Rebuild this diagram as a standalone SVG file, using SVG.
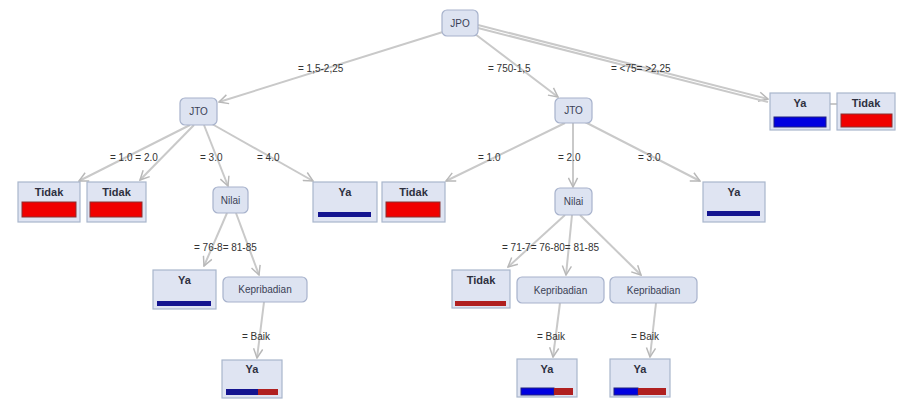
<svg xmlns="http://www.w3.org/2000/svg" width="901" height="399" viewBox="0 0 901 399">
<style>
.inner{fill:#dde3f1;stroke:#a7b2cc;stroke-width:1.2}
.leaf{fill:#dfe4f2;stroke:#a9b6cc;stroke-width:1.2}
.nt{font-family:"Liberation Sans",Arial,sans-serif;font-size:10px;fill:#3a3f55;text-anchor:middle}
.lt{font-family:"Liberation Sans",Arial,sans-serif;font-size:11px;font-weight:bold;fill:#2e3040;text-anchor:middle}
.el{font-family:"Liberation Sans",Arial,sans-serif;font-size:10px;fill:#333;text-anchor:start}
.edge{stroke:#c9c9c9;stroke-width:2;fill:none}
.red{fill:#f00000;stroke:#8a3030;stroke-width:1}
.blue{fill:#0000e0;stroke:#202080;stroke-width:1}
.thinb{fill:#141490}
.thinr{fill:#b02020}
</style>
<defs>
<marker id="arr" viewBox="0 0 12 12" refX="11" refY="6" markerWidth="11" markerHeight="11" markerUnits="userSpaceOnUse" orient="auto">
<path d="M1,1 L11,6 L1,11" fill="none" stroke="#b8b8b8" stroke-width="1.6"/>
</marker>
</defs>
<g id="connectors">
<line class="edge" x1="446" y1="31" x2="219" y2="102" marker-end="url(#arr)"/>
<line class="edge" x1="475" y1="34" x2="558" y2="97" marker-end="url(#arr)"/>
<line class="edge" x1="478" y1="25" x2="768" y2="99" marker-end="url(#arr)"/>
<line class="edge" x1="478" y1="28" x2="768" y2="102"/>
<line class="edge" x1="830" y1="104" x2="837" y2="104"/>
<line class="edge" x1="190" y1="125" x2="79" y2="181" marker-end="url(#arr)"/>
<line class="edge" x1="194" y1="125" x2="140" y2="180" marker-end="url(#arr)"/>
<line class="edge" x1="204" y1="125" x2="228" y2="186" marker-end="url(#arr)"/>
<line class="edge" x1="212" y1="124" x2="313" y2="181" marker-end="url(#arr)"/>
<line class="edge" x1="565" y1="123" x2="446" y2="181" marker-end="url(#arr)"/>
<line class="edge" x1="573" y1="123" x2="573" y2="187" marker-end="url(#arr)"/>
<line class="edge" x1="585" y1="122" x2="700" y2="181" marker-end="url(#arr)"/>
<line class="edge" x1="227" y1="213" x2="204" y2="266" marker-end="url(#arr)"/>
<line class="edge" x1="236" y1="213" x2="259" y2="275" marker-end="url(#arr)"/>
<line class="edge" x1="264" y1="302" x2="257" y2="358" marker-end="url(#arr)"/>
<line class="edge" x1="565" y1="215" x2="508" y2="267" marker-end="url(#arr)"/>
<line class="edge" x1="572" y1="215" x2="566" y2="275" marker-end="url(#arr)"/>
<line class="edge" x1="580" y1="215" x2="641" y2="275" marker-end="url(#arr)"/>
<line class="edge" x1="560" y1="303" x2="553" y2="357" marker-end="url(#arr)"/>
<line class="edge" x1="656" y1="303" x2="650" y2="357" marker-end="url(#arr)"/>
<text class="el" x="298" y="72">= 1,5-2,25</text>
<text class="el" x="488" y="72">= 750-1,5</text>
<text class="el" x="611" y="72">= &lt;75= &gt;2,25</text>
<text class="el" x="110" y="161">= 1.0 = 2.0</text>
<text class="el" x="200" y="161">= 3.0</text>
<text class="el" x="257" y="161">= 4.0</text>
<text class="el" x="478" y="161">= 1.0</text>
<text class="el" x="558" y="161">= 2.0</text>
<text class="el" x="638" y="161">= 3.0</text>
<text class="el" x="194" y="251">= 76-8= 81-85</text>
<text class="el" x="502" y="251">= 71-7= 76-80= 81-85</text>
<text class="el" x="242" y="340">= Baik</text>
<text class="el" x="537" y="340">= Baik</text>
<text class="el" x="631" y="340">= Baik</text>
</g>
<g id="n-jpo"><rect class="inner" x="442" y="10" width="36" height="26" rx="5"/><text class="nt" x="460" y="27">JPO</text></g>
<g id="n-jto-l"><rect class="inner" x="180" y="98" width="37" height="27" rx="5"/><text class="nt" x="198.5" y="115">JTO</text></g>
<g id="n-jto-r"><rect class="inner" x="555" y="98" width="37" height="25" rx="5"/><text class="nt" x="573.5" y="114">JTO</text></g>
<g id="n-ya-top"><rect class="leaf" x="770" y="93" width="60" height="37"/><text class="lt" x="800" y="107">Ya</text><rect class="blue" x="774" y="117" width="52" height="10"/></g>
<g id="n-tidak-top"><rect class="leaf" x="837" y="93" width="58" height="37"/><text class="lt" x="866" y="107">Tidak</text><rect class="red" x="841" y="114" width="51" height="13"/></g>
<g id="n-tidak-1"><rect class="leaf" x="18" y="182" width="62" height="40"/><text class="lt" x="49" y="196">Tidak</text><rect class="red" x="22" y="202" width="54" height="15"/></g>
<g id="n-tidak-2"><rect class="leaf" x="87" y="182" width="59" height="40"/><text class="lt" x="116.5" y="196">Tidak</text><rect class="red" x="90" y="202" width="52" height="15"/></g>
<g id="n-nilai-l"><rect class="inner" x="213" y="187" width="35" height="26" rx="5"/><text class="nt" x="230.5" y="204">Nilai</text></g>
<g id="n-ya-4"><rect class="leaf" x="313" y="182" width="64" height="40"/><text class="lt" x="345" y="196">Ya</text><rect class="thinb" x="318" y="212" width="53" height="5"/></g>
<g id="n-tidak-3"><rect class="leaf" x="382" y="182" width="63" height="40"/><text class="lt" x="413.5" y="196">Tidak</text><rect class="red" x="386" y="202" width="54" height="15"/></g>
<g id="n-nilai-r"><rect class="inner" x="555" y="188" width="37" height="27" rx="5"/><text class="nt" x="573.5" y="205">Nilai</text></g>
<g id="n-ya-3"><rect class="leaf" x="703" y="182" width="62" height="40"/><text class="lt" x="734" y="196">Ya</text><rect class="thinb" x="707" y="211" width="53" height="5"/></g>
<g id="n-ya-76"><rect class="leaf" x="153" y="270" width="63" height="39"/><text class="lt" x="184.5" y="284">Ya</text><rect class="thinb" x="157" y="301" width="54" height="5"/></g>
<g id="n-kep-l"><rect class="inner" x="223" y="277" width="84" height="25" rx="5"/><text class="nt" x="265" y="293">Kepribadian</text></g>
<g id="n-ya-kl"><rect class="leaf" x="222" y="360" width="60" height="38"/><text class="lt" x="252" y="373">Ya</text><rect class="thinb" x="226" y="389" width="32" height="6"/><rect class="thinr" x="258" y="389" width="20" height="6"/></g>
<g id="n-tidak-71"><rect class="leaf" x="452" y="270" width="58" height="38"/><text class="lt" x="481" y="284">Tidak</text><rect class="thinr" x="455" y="301" width="51" height="5"/></g>
<g id="n-kep-r1"><rect class="inner" x="517" y="277" width="87" height="26" rx="5"/><text class="nt" x="560.5" y="294">Kepribadian</text></g>
<g id="n-kep-r2"><rect class="inner" x="610" y="277" width="87" height="26" rx="5"/><text class="nt" x="653.5" y="294">Kepribadian</text></g>
<g id="n-ya-r1"><rect class="leaf" x="517" y="359" width="60" height="38"/><text class="lt" x="547" y="373">Ya</text><rect class="blue" x="521" y="388" width="33" height="7"/><rect class="thinr" x="554" y="388" width="19" height="7"/></g>
<g id="n-ya-r2"><rect class="leaf" x="610" y="359" width="60" height="38"/><text class="lt" x="640" y="373">Ya</text><rect class="blue" x="614" y="388" width="24" height="7"/><rect class="thinr" x="638" y="388" width="28" height="7"/></g>
</svg>
